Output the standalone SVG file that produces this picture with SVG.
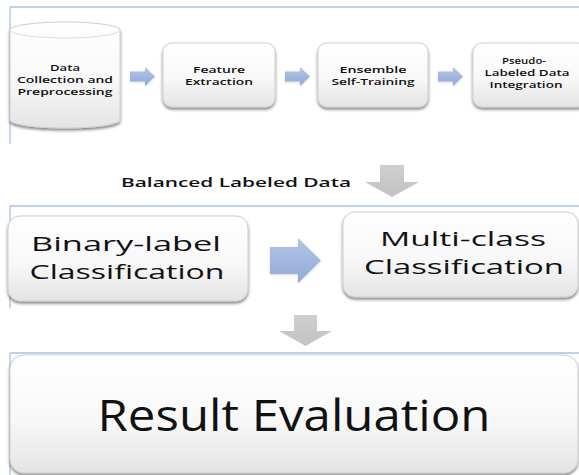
<svg xmlns="http://www.w3.org/2000/svg" width="579" height="475" viewBox="0 0 579 475">
  <defs>
    <linearGradient id="boxFill" x1="0" y1="0" x2="0" y2="1">
      <stop offset="0" stop-color="#ffffff"/>
      <stop offset="0.55" stop-color="#f8f8f8"/>
      <stop offset="1" stop-color="#e4e4e4"/>
    </linearGradient>
    <linearGradient id="blueFill" x1="0" y1="0" x2="0" y2="1">
      <stop offset="0" stop-color="#b4c6e6"/>
      <stop offset="1" stop-color="#90a8d6"/>
    </linearGradient>
    <linearGradient id="grayFill" x1="0" y1="0" x2="0" y2="1">
      <stop offset="0" stop-color="#cfcfcf"/>
      <stop offset="1" stop-color="#c2c2c2"/>
    </linearGradient>
    <filter id="shadow" x="-10%" y="-10%" width="120%" height="130%">
      <feDropShadow dx="0" dy="2" stdDeviation="1.4" flood-color="#000" flood-opacity="0.5"/>
    </filter>
    <filter id="arrowShadow" x="-20%" y="-20%" width="140%" height="150%">
      <feDropShadow dx="0" dy="1" stdDeviation="0.8" flood-color="#000" flood-opacity="0.15"/>
    </filter>
  </defs>
  <style>
    .panel { stroke: #a9c1e6; stroke-width: 1.3; fill: none; }
    .box { fill: url(#boxFill); stroke: #cfcfcf; stroke-width: 1; filter: url(#shadow); }
    .blue { fill: url(#blueFill); filter: url(#arrowShadow); }
    .gray { fill: url(#grayFill); }
    text { font-family: "Open Sans", "DejaVu Sans", sans-serif; fill: #111; text-anchor: middle; }
    .small { font-size: 8.8px; font-weight: 600; }
    .mid { font-size: 12.5px; font-weight: 600; }
    .big { font-size: 20.8px; font-weight: 500; }
    .huge { font-size: 44px; }
  </style>

  <!-- panel frames -->
  <g id="panels">
    <path class="panel" d="M10,7 H579 M10,7 V144"/>
    <path class="panel" d="M10,206 H579 M10,206 V308"/>
    <path class="panel" d="M10,353 H579 M10,353 V475"/>
  </g>

  <!-- connectors -->
  <g id="connectors">
    <path class="blue" d="M130,71.5 H145 V67 L155,76.5 L145,86 V81.5 H130 Z"/>
    <path class="blue" d="M285,71.5 H300 V67 L310,76.5 L300,86 V81.5 H285 Z"/>
    <path class="blue" d="M438,71.5 H453 V67 L463,76.5 L453,86 V81.5 H438 Z"/>
    <path class="blue" d="M270,247 H298 V238 L321,260.5 L298,283 V274 H270 Z"/>
    <path class="gray" d="M380,165 H404 V182 H419 L392,197 L365,182 H380 Z"/>
    <path class="gray" d="M294,315 H317 V331 H332 L305.5,346 L279,331 H294 Z"/>
  </g>

  <!-- data source -->
  <g id="data-collection">
    <path class="box" d="M10,30 A55,8 0 0 1 120,30 V120 A55,8 0 0 1 10,120 Z"/>
    <path d="M10,30 A55,8 0 0 0 120,30" fill="none" stroke="#dcdcdc" stroke-width="1"/>
    <text class="small" x="65" y="71" textLength="30" lengthAdjust="spacingAndGlyphs">Data</text>
    <text class="small" x="65" y="83" textLength="96" lengthAdjust="spacingAndGlyphs">Collection and</text>
    <text class="small" x="65" y="95" textLength="95" lengthAdjust="spacingAndGlyphs">Preprocessing</text>
  </g>

  <g id="feature-extraction">
    <rect class="box" x="163" y="43" width="112" height="64" rx="9"/>
    <text class="small" x="219" y="72.5" textLength="52" lengthAdjust="spacingAndGlyphs">Feature</text>
    <text class="small" x="219" y="84.5" textLength="68" lengthAdjust="spacingAndGlyphs">Extraction</text>
  </g>

  <g id="ensemble-self-training">
    <rect class="box" x="318" y="43" width="110" height="64" rx="9"/>
    <text class="small" x="373" y="72.5" textLength="67" lengthAdjust="spacingAndGlyphs">Ensemble</text>
    <text class="small" x="373" y="84.5" textLength="83" lengthAdjust="spacingAndGlyphs">Self-Training</text>
  </g>

  <g id="pseudo-labeled-integration">
    <rect class="box" x="473" y="43" width="114" height="64" rx="9"/>
    <text class="small" x="524" y="63.5" textLength="44" lengthAdjust="spacingAndGlyphs">Pseudo-</text>
    <text class="small" x="527" y="75.5" textLength="85" lengthAdjust="spacingAndGlyphs">Labeled Data</text>
    <text class="small" x="526" y="87.5" textLength="73" lengthAdjust="spacingAndGlyphs">Integration</text>
  </g>

  <g id="balanced-label">
    <text class="mid" x="236" y="187" textLength="230" lengthAdjust="spacingAndGlyphs">Balanced Labeled Data</text>
  </g>

  <g id="binary-classification">
    <rect class="box" x="8" y="216" width="240" height="85" rx="12"/>
    <text class="big" x="126" y="250.5" textLength="190" lengthAdjust="spacingAndGlyphs">Binary-label</text>
    <text class="big" x="127" y="279" textLength="195" lengthAdjust="spacingAndGlyphs">Classification</text>
  </g>

  <g id="multiclass-classification">
    <rect class="box" x="343" y="212" width="235" height="85" rx="12"/>
    <text class="big" x="463" y="245.5" textLength="166" lengthAdjust="spacingAndGlyphs">Multi-class</text>
    <text class="big" x="464" y="274" textLength="200" lengthAdjust="spacingAndGlyphs">Classification</text>
  </g>

  <g id="result-evaluation">
    <rect class="box" x="10" y="355" width="568" height="118" rx="14"/>
    <text class="huge" x="294" y="431" textLength="393" lengthAdjust="spacingAndGlyphs">Result Evaluation</text>
  </g>
</svg>
